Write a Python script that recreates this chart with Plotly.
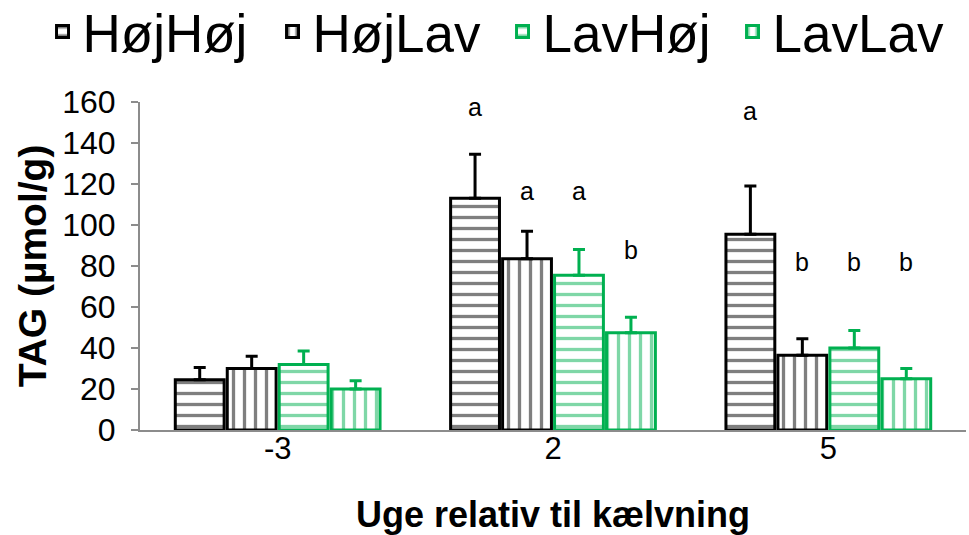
import plotly.graph_objects as go

# Weeks relative to calving
weeks = ["-3", "2", "5"]

# TAG (µmol/g) per group, mean and upper error
hojhoj = [24.5, 113, 95.5]
hojhoj_err = [6, 21.5, 23.5]
hojlav = [30, 83.5, 36.5]
hojlav_err = [6, 13.5, 8]
lavhoj = [32, 75.5, 40]
lavhoj_err = [6.5, 12.5, 8.5]
lavlav = [20, 47.5, 25]
lavlav_err = [4, 7.5, 5]

# Significance letters: (week index, series index, letter, y position)
letter_week = [1, 1, 1, 1, 2, 2, 2, 2]
letter_series = [0, 1, 2, 3, 0, 1, 2, 3]
letter_text = ["a", "a", "a", "b", "a", "b", "b", "b"]
letter_y = [157.5, 116.5, 116.5, 88, 155.5, 82, 82, 82]

BLACK = "#000000"
GREEN = "#00B050"
FONT = "Liberation Sans, Arial, sans-serif"

series = [
    ("HøjHøj", hojhoj, hojhoj_err, BLACK, "-"),
    ("HøjLav", hojlav, hojlav_err, BLACK, "|"),
    ("LavHøj", lavhoj, lavhoj_err, GREEN, "-"),
    ("LavLav", lavlav, lavlav_err, GREEN, "|"),
]

fig = go.Figure()
for name, vals, err, col, shape in series:
    fig.add_trace(go.Bar(
        name=name,
        x=weeks,
        y=vals,
        marker=dict(
            color="white",
            line=dict(color=col, width=3),
            pattern=dict(shape=shape, fgcolor=col, bgcolor="white",
                         size=11, solidity=0.3),
        ),
        error_y=dict(type="data", symmetric=False, array=err,
                     arrayminus=[0] * len(err), color=col,
                     thickness=3, width=6),
    ))

bargap = 0.245
nser = len(series)
slot = (1 - bargap) / nser
for wi, si, txt, yv in zip(letter_week, letter_series, letter_text, letter_y):
    xpos = wi - (1 - bargap) / 2 + slot * (si + 0.5)
    fig.add_annotation(x=xpos, y=yv, xref="x", yref="y", text=txt,
                       showarrow=False,
                       font=dict(family=FONT, size=25, color="black"))

fig.update_layout(
    width=969, height=535,
    margin=dict(l=140, r=3, t=102, b=105, autoexpand=False),
    paper_bgcolor="white", plot_bgcolor="white",
    barmode="group", bargap=bargap, bargroupgap=0.06,
    font=dict(family=FONT, color="black"),
    legend=dict(orientation="h", x=-0.118, xanchor="left",
                y=1.215, yanchor="middle", bgcolor="rgba(0,0,0,0)",
                font=dict(family=FONT, size=53, color="black"),
                itemwidth=30, entrywidth=185, entrywidthmode="pixels",
                tracegroupgap=0),
    xaxis=dict(
        showline=True, linecolor="#8c8c8c", linewidth=2,
        ticks="", tickfont=dict(family=FONT, size=31),
        ticklabelstandoff=-10,
        title=dict(text="<b>Uge relativ til kælvning</b>",
                   font=dict(family=FONT, size=36), standoff=37),
    ),
    yaxis=dict(
        range=[0, 160], dtick=20,
        showline=True, linecolor="#8c8c8c", linewidth=2,
        ticks="outside", ticklen=7, tickcolor="#8c8c8c", tickwidth=2,
        showgrid=False, zeroline=False,
        tickfont=dict(family=FONT, size=32),
        ticklabelstandoff=9,
        title=dict(text="<b>TAG (µmol/g)</b>",
                   font=dict(family=FONT, size=39), standoff=4),
    ),
)

fig.write_html("out.html")
